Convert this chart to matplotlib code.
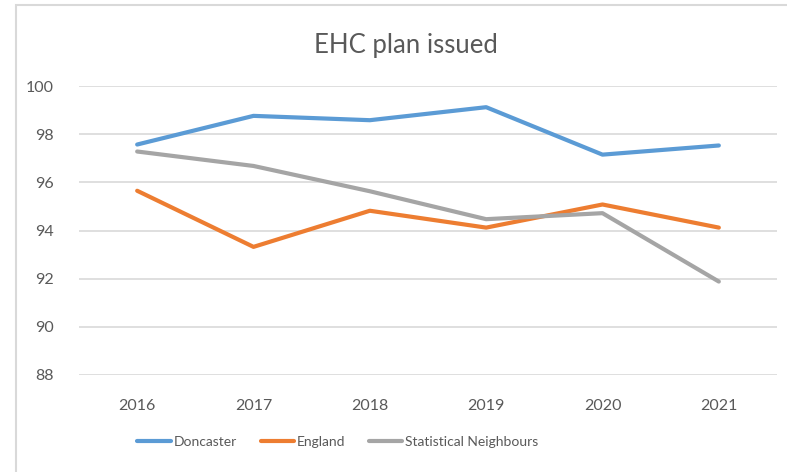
import matplotlib
matplotlib.use("Agg")
import matplotlib.pyplot as plt
from matplotlib.patches import Rectangle

years = ["2016", "2017", "2018", "2019", "2020", "2021"]
doncaster = [97.57, 98.76, 98.58, 99.12, 97.15, 97.53]
england = [95.65, 93.32, 94.82, 94.12, 95.08, 94.12]
stat_neighbours = [97.28, 96.68, 95.63, 94.47, 94.72, 91.88]
y_ticks = [88, 90, 92, 94, 96, 98, 100]

plt.rcParams["font.family"] = ["Lato", "DejaVu Sans"]
text_color = "#595959"
grid_color = "#D9D9D9"

fig = plt.figure(figsize=(7.87, 4.72), dpi=100)
fig.patch.set_facecolor("white")

# chart frame (open on right and bottom)
fig.add_artist(Rectangle((16 / 787, -0.1), 1.2, 1 - 5 / 472 + 0.1,
                         transform=fig.transFigure, fill=False,
                         edgecolor=grid_color, linewidth=1.5))

ax = fig.add_axes([79 / 787, 1 - 375 / 472, (777 - 79) / 787, (375 - 86) / 472])
x = list(range(len(years)))
ax.plot(x, doncaster, color="#5B9BD5", linewidth=3, label="Doncaster",
        solid_capstyle="round")
ax.plot(x, england, color="#ED7D31", linewidth=3, label="England",
        solid_capstyle="round")
ax.plot(x, stat_neighbours, color="#A5A5A5", linewidth=3,
        label="Statistical Neighbours", solid_capstyle="round")

ax.set_xlim(-0.5, len(years) - 0.5)
ax.set_ylim(88, 100)
ax.set_yticks(y_ticks)
ax.set_xticks(x)
ax.set_xticklabels(years)
ax.grid(axis="y", color=grid_color, linewidth=1.2)
ax.set_axisbelow(True)
for s in ax.spines.values():
    s.set_visible(False)
ax.tick_params(axis="both", length=0, labelsize=11.5, labelcolor=text_color)
ax.tick_params(axis="y", pad=18)
ax.tick_params(axis="x", pad=17)

fig.text(406 / 787, 1 - 45 / 472, "EHC plan issued", ha="center", va="center",
         fontsize=18.5, color=text_color)

leg = ax.legend(loc="center", bbox_to_anchor=(338 / 787, 1 - 442 / 472),
                bbox_transform=fig.transFigure, ncol=3, frameon=False,
                fontsize=10, handlelength=2.4, handletextpad=0.22,
                columnspacing=1.7)
for t in leg.get_texts():
    t.set_color(text_color)

fig.savefig("out.png", dpi=100)
